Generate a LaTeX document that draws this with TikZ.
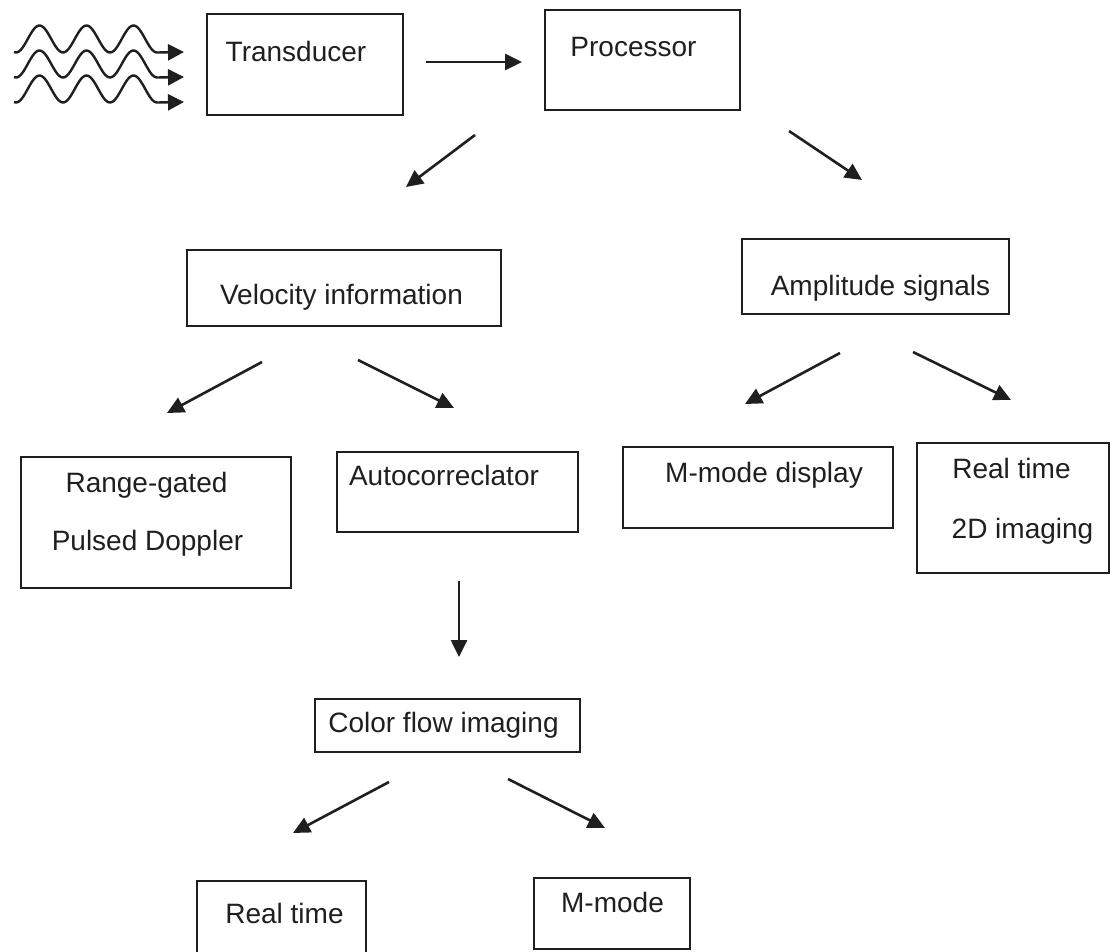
\documentclass[tikz,border=0pt]{standalone}
\usepackage{fontspec}
\setmainfont{Liberation Sans}
\usetikzlibrary{arrows.meta}
\begin{document}
\begin{tikzpicture}[x=1pt,y=-1pt,
  boxline/.style={draw=black!88, line width=2.8pt, fill=none},
  lbl/.style={inner sep=0pt, anchor=base, font=\fontsize{28}{34}\selectfont, text=black!88},
  flow/.style={draw=black!88, line width=2.6pt, -{Triangle[length=17pt,width=16pt]}},
  wave/.style={draw=black!88, line width=2.4pt, -{Triangle[length=16pt,width=16pt]}}
]
\useasboundingbox (0,0) rectangle (1112,952);
\fill[white] (0,0) rectangle (1112,952);

% boxes
\path[boxline] (207,14) rectangle (403,115);
\node[inner sep=0pt, minimum width=196pt, minimum height=101pt] (trans) at (305,64.5) {};
\path[boxline] (545,10) rectangle (740,110);
\node[inner sep=0pt, minimum width=195pt, minimum height=100pt] (proc) at (642.5,60) {};
\path[boxline] (187,250) rectangle (501,326);
\node[inner sep=0pt, minimum width=314pt, minimum height=76pt] (vel) at (344,288) {};
\path[boxline] (742,239) rectangle (1009,314);
\node[inner sep=0pt, minimum width=267pt, minimum height=75pt] (amp) at (875.5,276.5) {};
\path[boxline] (21,457) rectangle (291,588);
\node[inner sep=0pt, minimum width=270pt, minimum height=131pt] (range) at (156,522.5) {};
\path[boxline] (337,452) rectangle (578,532);
\node[inner sep=0pt, minimum width=241pt, minimum height=80pt] (auto) at (457.5,492) {};
\path[boxline] (623,447) rectangle (893,528);
\node[inner sep=0pt, minimum width=270pt, minimum height=81pt] (mmd) at (758,487.5) {};
\path[boxline] (917,443) rectangle (1109,573);
\node[inner sep=0pt, minimum width=192pt, minimum height=130pt] (rtd) at (1013,508) {};
\path[boxline] (315,699) rectangle (580,752);
\node[inner sep=0pt, minimum width=265pt, minimum height=53pt] (cfi) at (447.5,725.5) {};
\path[boxline] (197,881) rectangle (366,962);
\node[inner sep=0pt, minimum width=169pt, minimum height=81pt] (rt) at (281.5,921.5) {};
\path[boxline] (534,878) rectangle (690,949);
\node[inner sep=0pt, minimum width=156pt, minimum height=71pt] (mm) at (612,913.5) {};

% labels
\node[lbl] (transt) at (296,62) {Transducer};
\node[lbl] (proct) at (633.5,57) {Processor};
\node[lbl] (velt) at (341.5,305) {Velocity information};
\node[lbl] (ampt) at (880.5,296) {Amplitude signals};
\node[lbl] (ranget1) at (146.5,492) {Range-gated};
\node[lbl] (ranget2) at (147.5,550) {Pulsed Doppler};
\node[lbl] (autot) at (444,485) {Autocorreclator};
\node[lbl] (mmdt) at (764,482) {M-mode display};
\node[lbl] (rtdt1) at (1011.5,478) {Real time};
\node[lbl] (rtdt2) at (1022.5,538) {2D imaging};
\node[lbl] (cfit) at (443.5,732) {Color flow imaging};
\node[lbl] (rtt) at (284.5,923) {Real time};
\node[lbl] (mmt) at (612.5,912) {M-mode};

% arrow end points
\coordinate (a1s) at (426,62);  \coordinate (a1e) at (522,62);
\coordinate (a2s) at (475,135); \coordinate (a2e) at (406,187);
\coordinate (a3s) at (789,131); \coordinate (a3e) at (862,180);
\coordinate (a4s) at (262,362); \coordinate (a4e) at (167,413);
\coordinate (a5s) at (358,360); \coordinate (a5e) at (454,408);
\coordinate (a6s) at (840,353); \coordinate (a6e) at (745,404);
\coordinate (a7s) at (913,352); \coordinate (a7e) at (1011,400);
\coordinate (a8s) at (459,581); \coordinate (a8e) at (459,657);
\coordinate (a9s) at (389,782); \coordinate (a9e) at (293,833);
\coordinate (a10s) at (508,779); \coordinate (a10e) at (605,828);

\draw[flow] (a1s) -- (a1e);
\draw[flow] (a2s) -- (a2e);
\draw[flow] (a3s) -- (a3e);
\draw[flow] (a4s) -- (a4e);
\draw[flow] (a5s) -- (a5e);
\draw[flow] (a6s) -- (a6e);
\draw[flow] (a7s) -- (a7e);
\draw[flow] (a8s) -- (a8e);
\draw[flow] (a9s) -- (a9e);
\draw[flow] (a10s) -- (a10e);

% incoming waves
\foreach \k in {0,1,2}{
  \coordinate (w\k) at (184,{52+25*\k});
  \draw[wave, line join=round] plot[domain=14:157, samples=90, smooth] (\x,{39+25*\k+13.5*cos((\x-16)/47*360)}) -- (w\k);
}
\end{tikzpicture}
\end{document}
